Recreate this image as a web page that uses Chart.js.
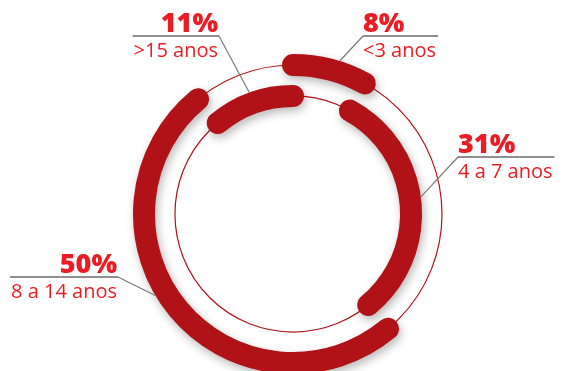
<!DOCTYPE html>
<html>
<head>
<meta charset="utf-8">
<script src="https://cdn.jsdelivr.net/npm/chart.js@4.4.1/dist/chart.umd.min.js"></script>
<style>
  html, body { margin: 0; padding: 0; background: #fff; overflow: hidden; }
</style>
</head>
<body>
<canvas id="rings" width="562" height="371"></canvas>
<script>
// idade da frota
const categories = ["<3 anos", "4 a 7 anos", "8 a 14 anos", ">15 anos"];
const shares = [8, 31, 50, 11];
const ringOf = ["outer", "inner", "outer", "inner"]; // ring each segment sits on

const RED = "#b11218";
const TEXT_RED = "#ec1c24";
const RING_W = 22;

// where each label's underline meets the leader (ring side end),
// and how far along its segment the leader touches the arc
const labelPos = [
  { x: 363, y: 36, align: "left", at: 0.59 },
  { x: 458, y: 157, align: "left", at: 0.48 },
  { x: 118, y: 277, align: "right", at: 0.55 },
  { x: 219, y: 36, align: "right", at: 0.5 }
];

function strokeRadius(arc, ring) {
  return ring === "outer" ? arc.outerRadius - RING_W / 2 : arc.innerRadius + RING_W / 2;
}

const ringsPlugin = {
  id: "rings",
  beforeDatasetsDraw(chart) {
    // thin guide circles under the thick arcs
    const ctx = chart.ctx;
    chart.data.datasets.forEach((ds, i) => {
      const arc = chart.getDatasetMeta(i).data[0];
      ctx.save();
      ctx.strokeStyle = RED;
      ctx.lineWidth = 1.2;
      ctx.beginPath();
      ctx.arc(arc.x, arc.y, strokeRadius(arc, ds.ring), 0, Math.PI * 2);
      ctx.stroke();
      ctx.restore();
    });
  },
  beforeDatasetDraw(chart, args) {
    const ctx = chart.ctx;
    const ds = chart.data.datasets[args.index];
    args.meta.data.forEach((arc, j) => {
      if (ringOf[j] !== ds.ring) return;
      ctx.save();
      ctx.shadowColor = "rgba(0,0,0,0.28)";
      ctx.shadowBlur = 10;
      ctx.shadowOffsetX = 2;
      ctx.shadowOffsetY = 4;
      ctx.strokeStyle = arc.options.backgroundColor;
      ctx.lineWidth = RING_W;
      ctx.lineCap = "round";
      ctx.beginPath();
      ctx.arc(arc.x, arc.y, strokeRadius(arc, ds.ring), arc.startAngle, arc.endAngle);
      ctx.stroke();
      ctx.restore();
    });
    return false; // skip the default wedge fill
  },
  afterDraw(chart) {
    const ctx = chart.ctx;
    categories.forEach((cat, j) => {
      const ds = chart.data.datasets.find(d => d.ring === ringOf[j]);
      const arc = chart.getDatasetMeta(chart.data.datasets.indexOf(ds)).data[j];
      const p = labelPos[j];
      const pct = shares[j] + "%";

      ctx.save();
      ctx.font = "20px 'Open Sans'";
      const lineLen = ctx.measureText(cat).width + 2;
      const x0 = p.align === "left" ? p.x : p.x - lineLen;

      // underline
      ctx.strokeStyle = "#8f8f8f";
      ctx.lineWidth = 2;
      ctx.beginPath();
      ctx.moveTo(x0, p.y);
      ctx.lineTo(x0 + lineLen, p.y);
      ctx.stroke();

      // leader to the arc
      const a = arc.startAngle + (arc.endAngle - arc.startAngle) * p.at;
      const r = ringOf[j] === "outer" ? arc.outerRadius : arc.innerRadius + RING_W;
      ctx.strokeStyle = "#7a7a7a";
      ctx.lineWidth = 1.2;
      ctx.beginPath();
      ctx.moveTo(p.x, p.y);
      ctx.lineTo(arc.x + Math.cos(a) * r, arc.y + Math.sin(a) * r);
      ctx.stroke();

      ctx.fillStyle = TEXT_RED;
      ctx.textAlign = p.align;
      ctx.textBaseline = "alphabetic";
      ctx.fillText(cat, p.align === "left" ? p.x : p.x - 1, p.y + 21);
      ctx.font = "800 27px 'Open Sans'";
      ctx.fillText(pct, p.align === "left" ? p.x : p.x - 1, p.y - 4);
      ctx.restore();
    });
  }
};

const segColors = ring => ringOf.map(r => (r === ring ? RED : "rgba(0,0,0,0)"));

new Chart(document.getElementById("rings").getContext("2d"), {
  type: "doughnut",
  data: {
    labels: categories,
    datasets: [
      { ring: "outer", data: shares, backgroundColor: segColors("outer"), borderWidth: 0 },
      { ring: "inner", data: shares, backgroundColor: segColors("inner"), borderWidth: 0 }
    ]
  },
  options: {
    responsive: false,
    animation: false,
    radius: 160,
    cutout: "66.9%",
    layout: { padding: { left: 24, top: 57, right: 0, bottom: 0 } },
    plugins: { legend: { display: false }, tooltip: { enabled: false } }
  },
  plugins: [ringsPlugin]
});
</script>
</body>
</html>
